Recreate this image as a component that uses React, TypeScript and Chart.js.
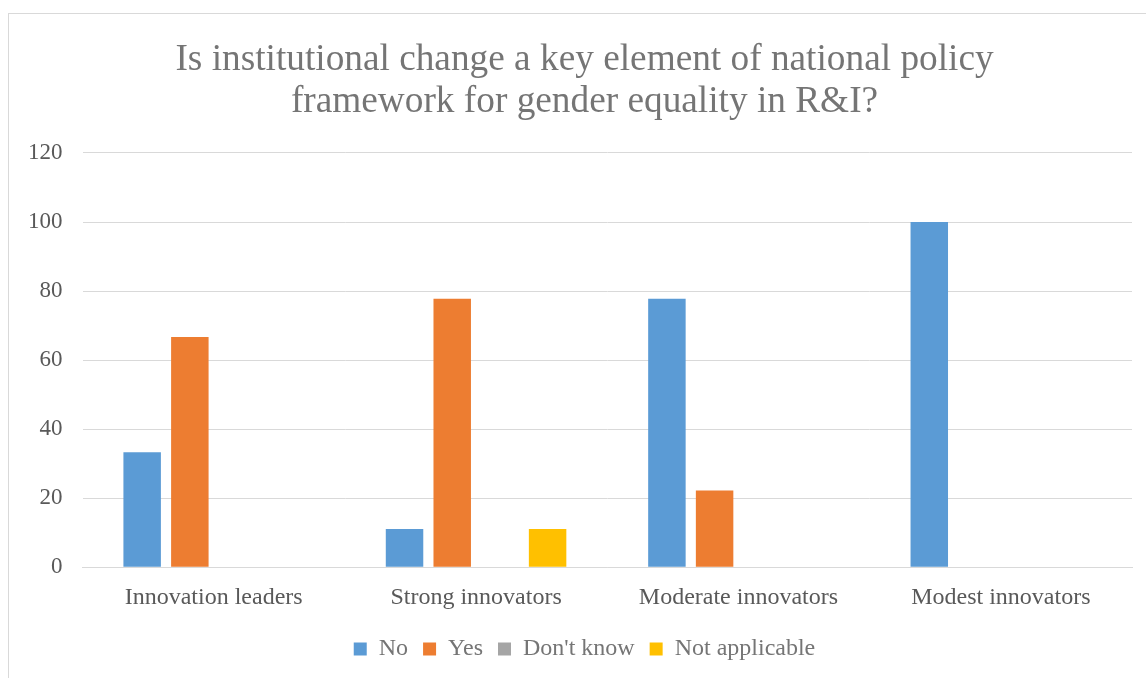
import React, { useEffect, useRef } from "react";
import { Chart, registerables } from "chart.js";

Chart.register(...registerables);

const titleLines = [
  "Is institutional change a key element of national policy",
  "framework for gender equality in R&I?",
];
const categories = ["Innovation leaders", "Strong innovators", "Moderate innovators", "Modest innovators"];
const noValues = [33.3, 11.1, 77.8, 100];
const yesValues = [66.7, 77.8, 22.2, 0];
const dontKnowValues = [0, 0, 0, 0];
const notApplicableValues = [0, 11.1, 0, 0];
const yTicks = [0, 20, 40, 60, 80, 100, 120];

const FONT = "'Liberation Serif', 'Times New Roman', serif";

export default function App() {
  const ref = useRef<HTMLCanvasElement>(null);
  useEffect(() => {
    const ctx = ref.current!;
    const common = { barPercentage: 0.786, categoryPercentage: 0.727 };
    const chart = new Chart(ctx, {
      type: "bar",
      data: {
        labels: categories,
        datasets: [
          { label: "No", data: noValues, backgroundColor: "#5B9BD5", ...common },
          { label: "Yes", data: yesValues, backgroundColor: "#ED7D31", ...common },
          { label: "Don't know", data: dontKnowValues, backgroundColor: "#A5A5A5", ...common },
          { label: "Not applicable", data: notApplicableValues, backgroundColor: "#FFC000", ...common },
        ],
      },
      options: {
        animation: false,
        responsive: false,
        maintainAspectRatio: false,
        layout: { padding: { left: 0, right: 0, top: 14, bottom: 7 } },
        plugins: {
          tooltip: { enabled: false },
          title: {
            display: true,
            text: titleLines,
            color: "#757575",
            font: { family: FONT, size: 37.3, weight: "normal", lineHeight: 1.126 },
            padding: { top: 25, bottom: 30 },
          },
          legend: {
            position: "bottom",
            labels: {
              color: "#757575",
              font: { family: FONT, size: 24 },
              boxWidth: 13,
              boxHeight: 13,
              padding: 15,
            },
          },
        },
        scales: {
          x: {
            grid: { display: false },
            border: { color: "#D9D9D9", width: 1 },
            ticks: { color: "#595959", font: { family: FONT, size: 24 }, padding: 8 },
            afterFit: (scale: any) => {
              scale.height += 2;
            },
          },
          y: {
            min: 0,
            max: 120,
            afterBuildTicks: (axis: any) => {
              axis.ticks = yTicks.map((v) => ({ value: v }));
            },
            grid: { color: "#D9D9D9", drawTicks: false },
            border: { display: false },
            ticks: { color: "#595959", font: { family: FONT, size: 23 }, padding: 20 },
          },
          yRight: {
            position: "right",
            min: 0,
            max: 120,
            grid: { display: false, drawTicks: false },
            border: { display: false },
            ticks: { display: false },
            afterFit: (scale: any) => {
              scale.width = 29;
            },
          },
        },
      },
    });
    return () => chart.destroy();
  }, []);
  return (
    <div style={{ position: "fixed", left: 0, top: 0, width: 1146, height: 678, background: "#fff", overflow: "hidden" }}>
      <div
        style={{
          position: "absolute",
          left: 8,
          top: 13,
          width: 1200,
          height: 720,
          border: "1.5px solid #D9D9D9",
          boxSizing: "border-box",
        }}
      />
      <canvas ref={ref} width={1153} height={678} style={{ position: "absolute", left: 8, top: 0 }} />
    </div>
  );
}
